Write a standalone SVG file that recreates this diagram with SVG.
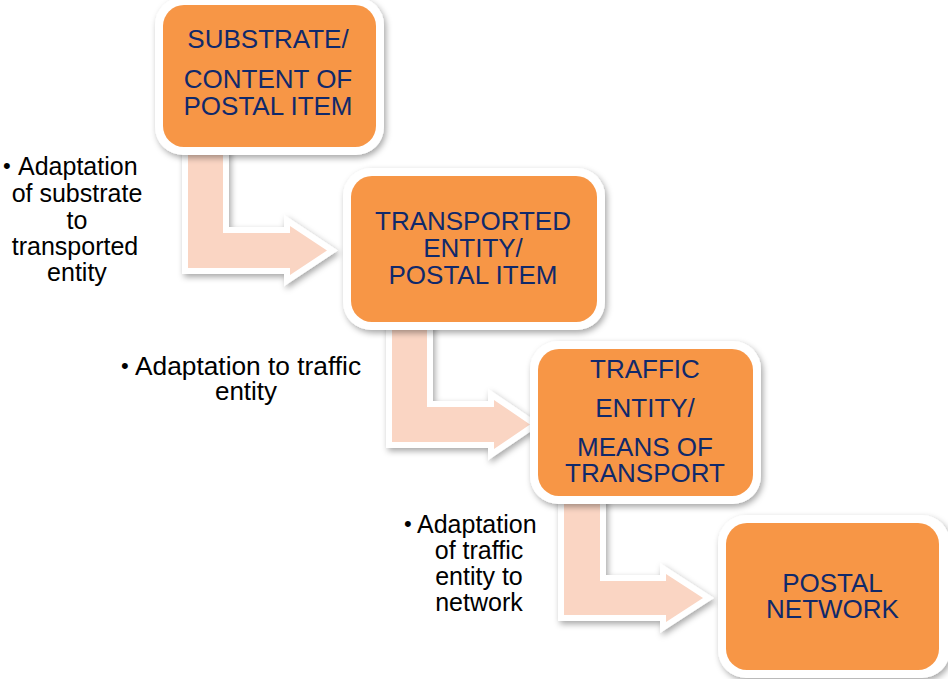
<svg xmlns="http://www.w3.org/2000/svg" width="948" height="679" viewBox="0 0 948 679">
<defs>
<filter id="sh" x="-10%" y="-10%" width="130%" height="130%">
<feDropShadow dx="2" dy="3" stdDeviation="3" flood-color="#000" flood-opacity="0.35"/>
</filter>
</defs>
<style>
.outer{fill:#fff;filter:url(#sh)}
.box{fill:#F79646}
.arr{fill:#FAD5C3;stroke:#fff;stroke-width:12;stroke-linejoin:miter;stroke-miterlimit:10;paint-order:stroke;filter:url(#sh)}
.bt{font-family:"Liberation Sans",Arial,sans-serif;font-size:26px;fill:#10296B;text-anchor:middle}
.lt{font-family:"Liberation Sans",Arial,sans-serif;font-size:25px;fill:#000;text-anchor:middle}
.bl{font-family:"Liberation Sans",Arial,sans-serif;font-size:25px;fill:#000}
.bu{font-family:"Liberation Sans",Arial,sans-serif;font-size:22px;fill:#000}
</style>
<g id="connectors">
<polygon class="arr" points="188,150 223,150 223,233 290,233 290,226 327,250.5 290,275 290,268 188,268"/>
<polygon class="arr" points="392,326 427,326 427,407 494,407 494,400 530,424.5 494,449 494,442 392,442"/>
<polygon class="arr" points="564,500 600,500 600,581 666,581 666,574 703,598 666,622 666,615 564,615"/>
</g>
<g id="node1">
<rect class="outer" x="155" y="-3" width="229" height="158" rx="28"/>
<rect class="box" x="163" y="5" width="213" height="142" rx="21"/>
<text class="bt" x="268" y="48">SUBSTRATE/</text>
<text class="bt" x="268" y="88">CONTENT OF</text>
<text class="bt" x="268" y="115">POSTAL ITEM</text>
</g>
<g id="node2">
<rect class="outer" x="343" y="168" width="262" height="162" rx="28"/>
<rect class="box" x="351" y="176" width="246" height="146" rx="21"/>
<text class="bt" x="473" y="230">TRANSPORTED</text>
<text class="bt" x="473" y="257">ENTITY/</text>
<text class="bt" x="473" y="284">POSTAL ITEM</text>
</g>
<g id="node3">
<rect class="outer" x="530" y="341" width="231" height="163" rx="28"/>
<rect class="box" x="538" y="349" width="215" height="147" rx="21"/>
<text class="bt" x="645" y="378">TRAFFIC</text>
<text class="bt" x="645" y="417">ENTITY/</text>
<text class="bt" x="645" y="456">MEANS OF</text>
<text class="bt" x="645" y="482">TRANSPORT</text>
</g>
<g id="node4">
<rect class="outer" x="718" y="515" width="232" height="163" rx="28"/>
<rect class="box" x="726" y="523" width="213" height="147" rx="21"/>
<text class="bt" x="832.5" y="592">POSTAL</text>
<text class="bt" x="832.5" y="618">NETWORK</text>
</g>
<g id="label1">
<text class="bu" x="3" y="173">•</text>
<text class="bl" x="18" y="175">Adaptation</text>
<text class="lt" x="77" y="202">of substrate</text>
<text class="lt" x="77" y="229">to</text>
<text class="lt" x="75" y="255">transported</text>
<text class="lt" x="77" y="281">entity</text>
</g>
<g id="label2">
<text class="bu" x="121" y="373">•</text>
<text class="bl" x="135" y="375" style="font-size:26.3px">Adaptation to traffic</text>
<text class="lt" x="246" y="400" style="font-size:26px">entity</text>
</g>
<g id="label3">
<text class="bu" x="404" y="531">•</text>
<text class="bl" x="417" y="533">Adaptation</text>
<text class="lt" x="479" y="559">of traffic</text>
<text class="lt" x="479" y="585">entity to</text>
<text class="lt" x="479" y="611">network</text>
</g>
</svg>
